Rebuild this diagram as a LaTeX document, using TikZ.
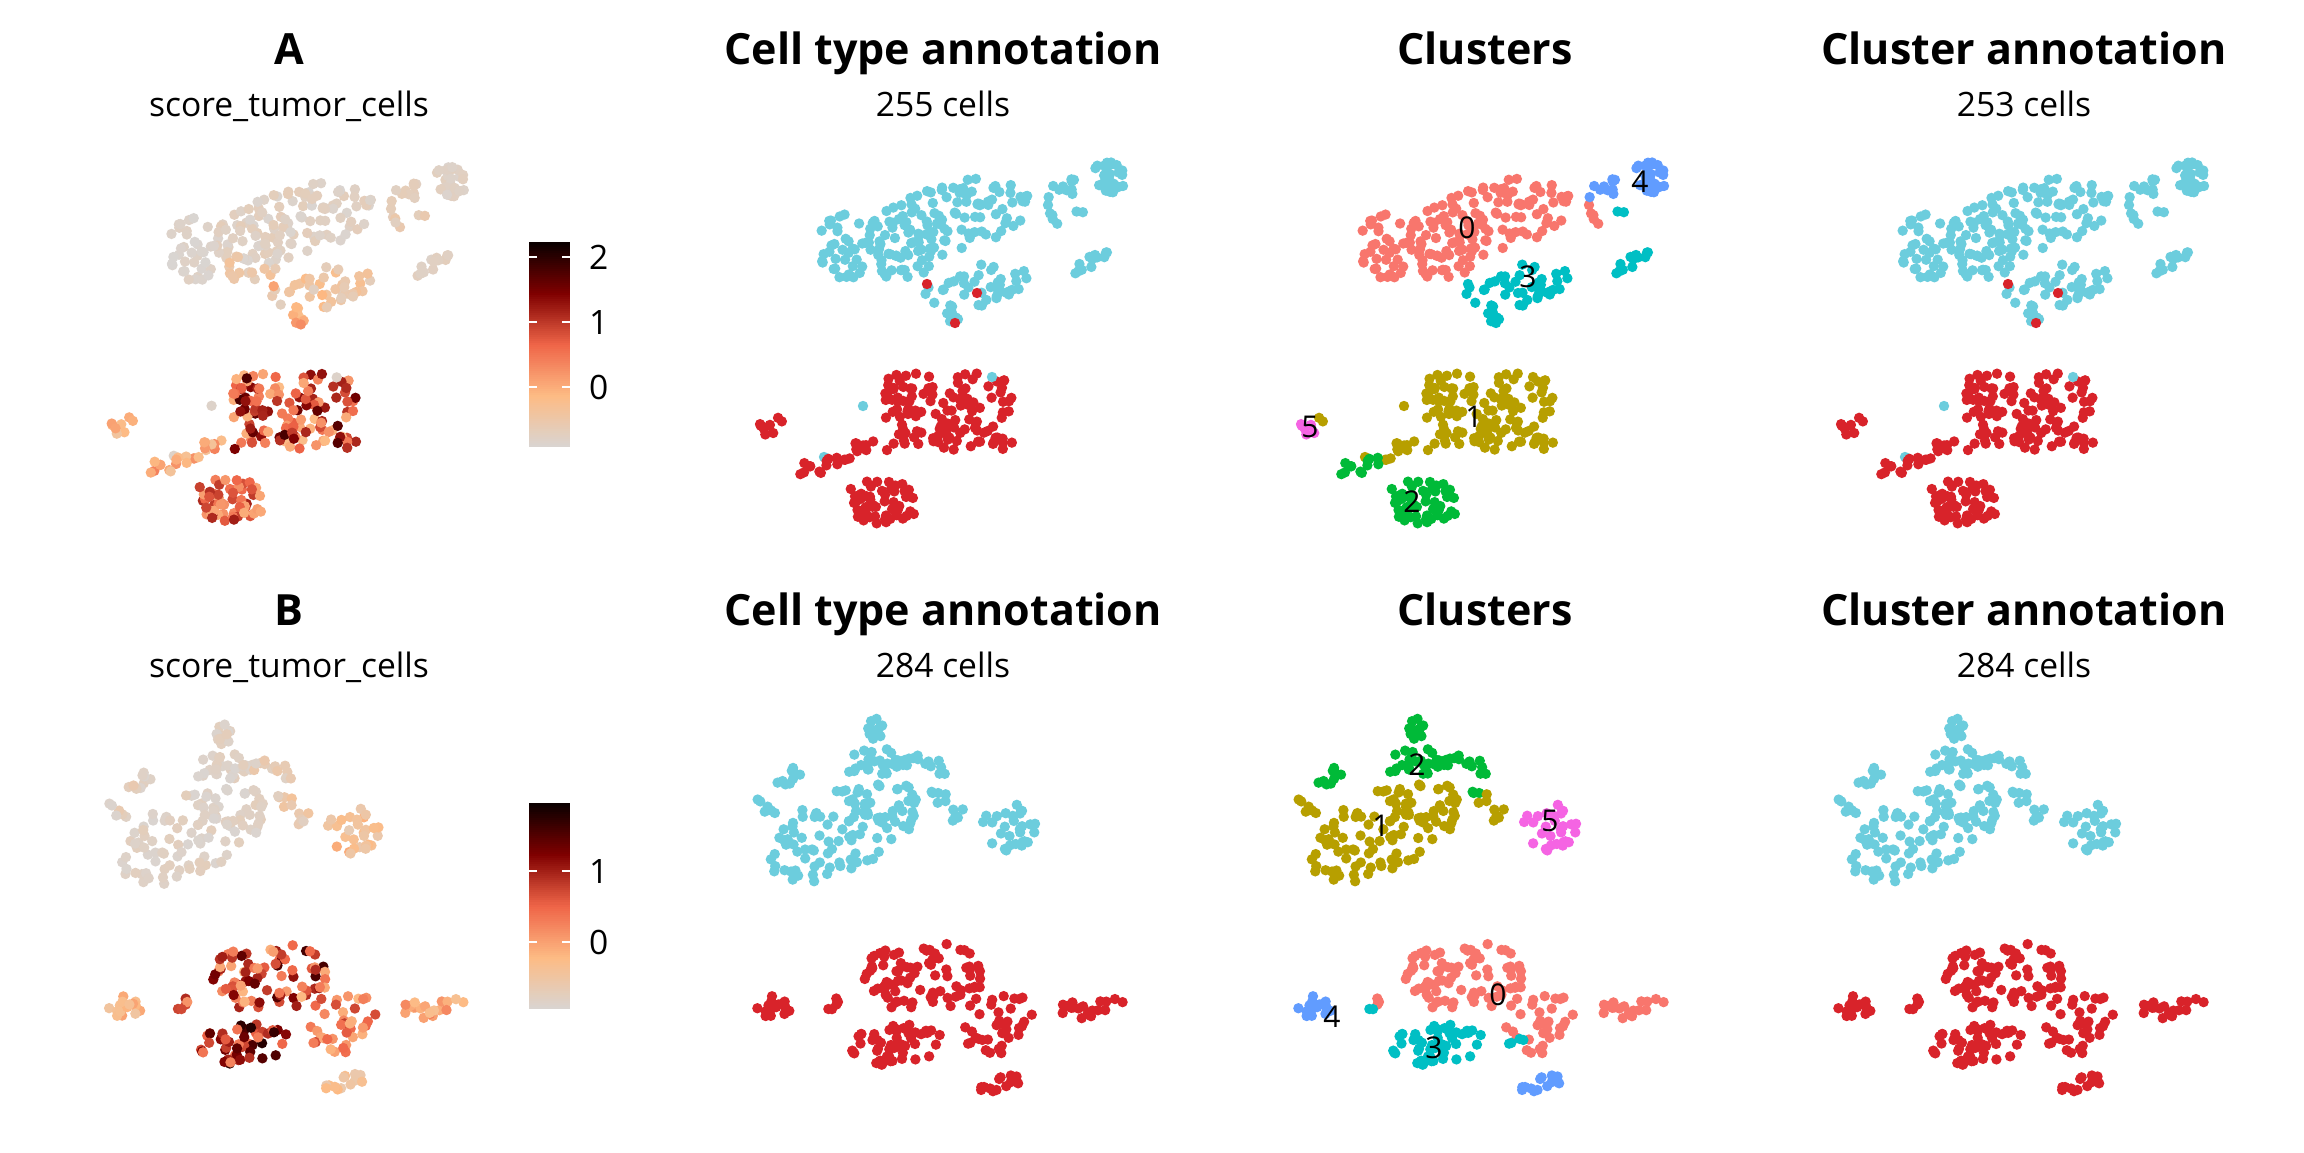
\documentclass[tikz,border=0pt]{standalone}
\usepackage{fontspec}
\setmainfont{Open Sans}
\definecolor{sc0}{HTML}{D9D5D2}
\definecolor{sc1}{HTML}{FDBB84}
\definecolor{sc2}{HTML}{EF6548}
\definecolor{sc3}{HTML}{7F0000}
\definecolor{sc4}{HTML}{0A0000}
\definecolor{typeC}{HTML}{6CCDDD}
\definecolor{typeR}{HTML}{D8232A}
\definecolor{clu0}{HTML}{F8766D}
\definecolor{clu1}{HTML}{B79F00}
\definecolor{clu2}{HTML}{00BA38}
\definecolor{clu3}{HTML}{00BFC4}
\definecolor{clu4}{HTML}{619CFF}
\definecolor{clu5}{HTML}{F564E3}
\tikzset{
  ttl/.style={anchor=base, inner sep=0pt, font=\fontsize{43}{50}\selectfont\bfseries},
  sub/.style={anchor=base, inner sep=0pt, font=\fontsize{33.6}{40}\selectfont},
  clab/.style={anchor=center, inner sep=0pt, font=\fontsize{30}{36}\selectfont},
  cbl/.style={anchor=west, inner sep=0pt, font=\fontsize{33.6}{40}\selectfont},
  cbtick/.style={white, line width=1.3pt}
}
% cluster/type/shape(0 ellipse,1 box)/cx/cy/ax/ay/bx/by/n/mean/spread
\def\blobsA{0/0/0/1488/220/82/-14/-6/40/120/-0.78/0.12,
0/0/0/1385/248/26/0/0/34/35/-0.85/0.08,
0/0/0/1440/265/30/0/0/14/15/-0.55/0.2,
0/0/0/1594/218/5/15/4/0/5/-0.6/0.2,
3/0/0/1517/285/52/-8/0/22/40/-0.45/0.3,
3/0/0/1495/313/9/0/0/10/6/-0.1/0.3,
3/0/0/1637/260/24/-12/2/6/12/-0.75/0.1,
3/0/0/1617/210/8/2/1/2/2/-0.6/0.1,
4/0/0/1652/177/20/0/0/16/30/-0.8/0.08,
4/0/0/1600/192/20/-9/2/9/10/-0.7/0.12,
1/1/1/1490/412/64/-3/0/40/125/0.8/1.0,
1/1/0/1400/447/28/-12/0/8/12/0.0/0.4,
1/1/0/1322/423/4/8/2/0/2/-0.2/0.2,
1/0/0/1404/406/0/0/0/0/1/-0.85/0.02,
1/0/0/1365/457/0/0/0/0/1/-0.85/0.02,
1/0/0/1533/377/0/0/0/0/1/-0.85/0.02,
3/1/0/1468/284/0/0/0/0/1/0.1/0.1,
3/1/0/1518/293/0/0/0/0/1/-0.2/0.1,
3/1/0/1496/323/0/0/0/0/1/0.3/0.1,
2/1/0/1425/500/40/0/0/24/55/0.6/0.6,
2/1/0/1362/465/25/-6/0/9/12/0.0/0.4,
5/1/0/1308/428/8/0/0/9/7/-0.2/0.3}
\def\blobsB{2/0/0/1417/732/0/14/10/0/12/-0.8/0.1,
2/0/0/1415/763/33/0/0/15/28/-0.82/0.1,
2/0/0/1470/765/27/3/0/10/12/-0.7/0.15,
2/0/0/1475/790/6/0/0/5/3/-0.7/0.15,
2/0/0/1332/776/20/-10/3/6/9/-0.75/0.15,
1/0/0/1385/832/68/-42/30/30/110/-0.82/0.1,
1/0/0/1307/806/10/8/4/-4/6/-0.75/0.15,
1/0/0/1490/805/18/-8/6/18/8/-0.6/0.2,
5/0/0/1550/826/27/0/0/25/28/-0.35/0.3,
0/1/0/1465/977/62/0/0/36/80/0.7/0.9,
0/1/0/1538/1015/35/0/0/40/35/0.3/0.5,
0/1/0/1630/1008/42/-4/0/10/20/0.0/0.4,
0/1/0/1375/995/5/12/3/0/3/0.5/0.5,
3/1/0/1440/1046/50/0/0/22/50/1.0/0.8,
3/1/0/1371/1010/6/3/0/2/2/0.5/0.3,
3/1/0/1520/1040/20/-3/0/8/4/0.3/0.4,
4/1/0/1316/1007/18/0/0/14/18/-0.3/0.3,
4/1/0/1540/1083/27/-6/0/8/14/-0.4/0.2}
\newcommand\scorecolor{%
  \pgfmathsetmacro\ffv{4*max(0,min(1,(\scoreval-\vmin)/(\vmax-\vmin)))}%
  \pgfmathtruncatemacro\segno{min(3,floor(\ffv))}%
  \pgfmathtruncatemacro\ppc{round(100*(\ffv-\segno))}%
  \ifcase\segno\relax \colorlet{ptc}{sc1!\ppc!sc0}\or \colorlet{ptc}{sc2!\ppc!sc1}\or \colorlet{ptc}{sc3!\ppc!sc2}\else \colorlet{ptc}{sc4!\ppc!sc3}\fi}
\newcommand\pickcolor[1]{%
  \ifcase#1\relax \scorecolor
  \or \ifnum\bty=0 \colorlet{ptc}{typeC}\else \colorlet{ptc}{typeR}\fi
  \or \edef\tmpc{clu\bcl}\colorlet{ptc}{\tmpc}%
  \fi}
% #1 blobs, #2 mode, #3 sx, #4 dx, #5 sy, #6 dy
\newcommand\drawpanel[6]{%
  \pgfmathsetseed{4242}%
  \foreach \bcl/\bty/\bsh/\bcx/\bcy/\bax/\bay/\bbx/\bby/\bn/\bmu/\bsd in #1 {%
    \foreach \i in {1,...,\bn} {%
      \pgfmathsetmacro\ua{rnd}%
      \pgfmathsetmacro\scoreval{\bmu+\bsd*rand}%
      \pgfmathsetmacro\ub{rnd}%
      \ifnum\bsh=0
        \pgfmathsetmacro\ang{360*\ub+137.5*mod(\i,97)}%
        \pgfmathsetmacro\rta{sqrt(\ua)*cos(\ang)}%
        \pgfmathsetmacro\rtb{sqrt(\ua)*sin(\ang)}%
      \else
        \pgfmathsetmacro\rta{2*\ua-1}%
        \pgfmathsetmacro\rtb{2*\ub-1}%
      \fi
      \pgfmathsetmacro\ptx{#3*(\bcx+\rta*\bax+\rtb*\bbx)+#4}%
      \pgfmathsetmacro\pty{#5*(\bcy+\rta*\bay+\rtb*\bby)+#6}%
      \pickcolor{#2}%
      \fill[ptc] (\ptx,\pty) circle[radius=5.2pt];
    }%
  }%
}
% colour bar: #1 top y, #2 bottom y
\newcommand\colbar[2]{%
  \foreach \k in {0,...,101} {%
    \pgfmathsetmacro\scoreval{\vmin+(\vmax-\vmin)*(\k+0.5)/102}%
    \scorecolor
    \pgfmathsetmacro\yb{#2-(#2-#1)/102*\k}%
    \pgfmathsetmacro\yt{#2-(#2-#1)/102*(\k+1)-0.6}%
    \fill[ptc] (529,\yb) rectangle (570,\yt);
  }%
}
\begin{document}
\begin{tikzpicture}[x=1pt,y=-1pt]
\fill[white] (0,0) rectangle (2304,1152);
\useasboundingbox (0,0) rectangle (2304,1152);
% ---------- row A ----------
\def\vmin{-0.923}\def\vmax{2.215}
\drawpanel{\blobsA}{0}{0.97}{-1150.3}{0.98}{7.9}
\drawpanel{\blobsA}{1}{1}{-541}{1}{0}
\drawpanel{\blobsA}{2}{1}{0}{1}{0}
\drawpanel{\blobsA}{1}{1}{540}{1}{0}
\colbar{243}{447}
\draw[cbtick] (529,257) -- (537,257) (562,257) -- (570,257);
\draw[cbtick] (529,322) -- (537,322) (562,322) -- (570,322);
\draw[cbtick] (529,387) -- (537,387) (562,387) -- (570,387);
\node[cbl] (a2) at (589,257) {2};
\node[cbl] (a1) at (589,322) {1};
\node[cbl] (a0) at (589,387) {0};
\node[ttl] (tA) at (289,64) {A};
\node[sub] (sA) at (289,116) {score\_tumor\_cells};
\node[ttl] (tA2) at (943,64) {Cell type annotation};
\node[sub] (sA2) at (943,116) {255 cells};
\node[ttl] (tA3) at (1485,64) {Clusters};
\node[ttl] (tA4) at (2024,64) {Cluster annotation};
\node[sub] (sA4) at (2024,116) {253 cells};
\node[clab] (lA0) at (1467,228) {0};
\node[clab] (lA1) at (1474,417) {1};
\node[clab] (lA2) at (1412,502) {2};
\node[clab] (lA3) at (1528,277) {3};
\node[clab] (lA4) at (1640,182) {4};
\node[clab] (lA5) at (1310,427) {5};
% ---------- row B ----------
\def\vmin{-0.93}\def\vmax{1.93}
\drawpanel{\blobsB}{0}{0.97}{-1150.3}{0.98}{20.1}
\drawpanel{\blobsB}{1}{1}{-541}{1}{0}
\drawpanel{\blobsB}{2}{1}{0}{1}{0}
\drawpanel{\blobsB}{1}{1}{540}{1}{0}
\colbar{804}{1009}
\draw[cbtick] (529,871) -- (537,871) (562,871) -- (570,871);
\draw[cbtick] (529,942) -- (537,942) (562,942) -- (570,942);
\node[cbl] (b1) at (589,871) {1};
\node[cbl] (b0) at (589,942) {0};
\node[ttl] (tB) at (289,625) {B};
\node[sub] (sB) at (289,677) {score\_tumor\_cells};
\node[ttl] (tB2) at (943,625) {Cell type annotation};
\node[sub] (sB2) at (943,677) {284 cells};
\node[ttl] (tB3) at (1485,625) {Clusters};
\node[ttl] (tB4) at (2024,625) {Cluster annotation};
\node[sub] (sB4) at (2024,677) {284 cells};
\node[clab] (lB0) at (1498,995) {0};
\node[clab] (lB1) at (1381,826) {1};
\node[clab] (lB2) at (1417,765) {2};
\node[clab] (lB3) at (1434,1048) {3};
\node[clab] (lB4) at (1332,1017) {4};
\node[clab] (lB5) at (1550,821) {5};
\end{tikzpicture}
\end{document}
